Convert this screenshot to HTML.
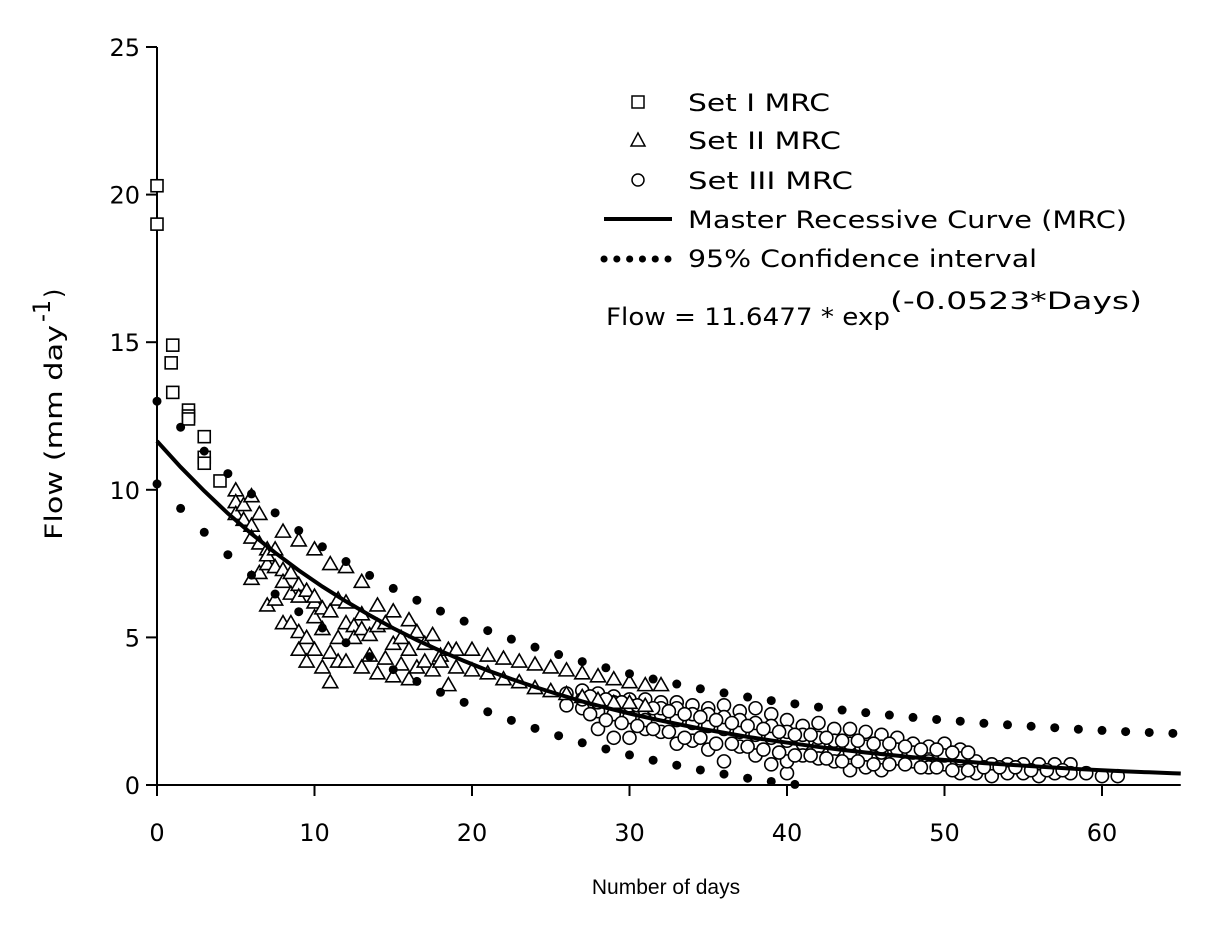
<!DOCTYPE html>
<html><head><meta charset="utf-8"><style>
body{margin:0;background:#fff}
svg{display:block}
text{font-family:"DejaVu Sans","Liberation Sans",sans-serif;fill:#000}
</style></head><body>
<svg id="chart" width="1216" height="928" viewBox="0 0 1216 928" xmlns="http://www.w3.org/2000/svg">
<g id="axes"></g>
<g id="marks"></g>
<g id="legend">
  <rect x="632" y="96" width="12" height="12" fill="#fff" stroke="#000" stroke-width="1.5"/>
  <text x="688" y="111" font-size="24" textLength="142" lengthAdjust="spacingAndGlyphs">Set I MRC</text>
  <polygon points="638,133 631,146 645,146" fill="#fff" stroke="#000" stroke-width="1.5"/>
  <text x="688" y="149" font-size="24" textLength="153" lengthAdjust="spacingAndGlyphs">Set II MRC</text>
  <circle cx="638" cy="180" r="6" fill="#fff" stroke="#000" stroke-width="1.5"/>
  <text x="688" y="189" font-size="24" textLength="165" lengthAdjust="spacingAndGlyphs">Set III MRC</text>
  <line x1="604" y1="219" x2="672" y2="219" stroke="#000" stroke-width="4"/>
  <text x="688" y="228" font-size="24" textLength="439" lengthAdjust="spacingAndGlyphs">Master Recessive Curve (MRC)</text>
  <line x1="604" y1="259" x2="668" y2="259" stroke="#000" stroke-width="7" stroke-linecap="round" stroke-dasharray="0.1 12.7"/>
  <text x="688" y="267" font-size="24" textLength="349" lengthAdjust="spacingAndGlyphs">95% Confidence interval</text>
  <text x="606" y="325" font-size="24" textLength="284" lengthAdjust="spacingAndGlyphs">Flow = 11.6477 * exp</text>
  <text x="890" y="309" font-size="24" textLength="252" lengthAdjust="spacingAndGlyphs">(-0.0523*Days)</text>
</g>
<text x="666" y="894" font-size="21" text-anchor="middle" style="font-family:'Liberation Sans',sans-serif">Number of days</text>
<g transform="translate(62,540) rotate(-90)">
  <text x="0" y="0" font-size="24" textLength="215" lengthAdjust="spacingAndGlyphs">Flow (mm day</text>
  <text x="218" y="-12" font-size="24" textLength="22" lengthAdjust="spacingAndGlyphs">-1</text>
  <text x="242" y="0" font-size="24">)</text>
</g>
</svg>
<script>
const xTicks=[0,10,20,30,40,50,60];
const yTicks=[0,5,10,15,20,25];
const set1Days=[0,0,1,0.9,1,2,2,2,3,3,3,4];
const set1Flow=[20.3,19.0,14.9,14.3,13.3,12.7,12.5,12.4,11.8,11.1,10.9,10.3];
const set2Days=[5,5,5,5.5,5.5,6,6,6,6,6.5,6.5,6.5,7,7,7,7,7.5,7.5,7.5,8,8,8,8,8.5,8.5,8.5,9,9,9,9,9,9.5,9.5,9.5,10,10,10,10,10,10.5,10.5,10.5,11,11,11,11,11.5,11.5,11.5,12,12,12,12,12.5,12.5,13,13,13,13,13.5,13.5,14,14,14,14.5,14.5,15,15,15,15.5,15.5,16,16,16,16.5,16.5,17,17,17.5,17.5,18,18,18.5,18.5,19,19,20,20,21,21,22,22,23,23,24,24,25,25,26,26,27,27,28,28,29,29,30,30,31,31,32];
const set2Flow=[10.0,9.6,9.2,9.5,9.0,9.8,8.8,8.4,7.0,9.2,8.2,7.2,8.0,7.5,6.1,7.8,8.0,6.3,7.4,8.6,7.3,5.5,6.9,7.2,6.5,5.5,8.3,6.8,6.4,5.2,4.6,6.6,5.0,4.2,8.0,6.2,4.6,5.7,6.4,6.0,4.0,5.3,7.5,5.9,3.5,4.5,6.3,5.0,4.2,7.4,6.2,5.5,4.2,5.4,5.0,6.9,5.8,4.0,5.3,5.1,4.4,6.1,5.4,3.8,5.5,4.3,5.9,4.8,3.7,5.0,4.1,5.6,4.6,3.6,5.2,4.0,4.8,4.2,5.1,3.9,4.4,4.2,4.6,3.4,4.6,4.0,4.6,3.9,4.4,3.8,4.3,3.6,4.2,3.5,4.1,3.3,4.0,3.2,3.9,3.1,3.8,3.0,3.7,2.9,3.6,2.8,3.5,2.8,3.4,2.7,3.4];
const set3Days=[26,26,27,27,27,28,28,28,28,29,29,29,29,30,30,30,30,31,31,31,31,32,32,32,32,33,33,33,33,34,34,34,34,35,35,35,35,36,36,36,36,37,37,37,37,38,38,38,38,39,39,39,39,40,40,40,40,40,41,41,41,41,42,42,42,42,43,43,43,43,44,44,44,44,45,45,45,45,46,46,46,46,47,47,47,48,48,48,49,49,49,50,50,50,51,51,51,52,52,53,53,54,54,55,55,56,56,57,57,58,58,59,60,61,
27.5,27.5,28.5,28.5,29.5,29.5,30.5,30.5,31.5,31.5,32.5,32.5,33.5,33.5,34.5,34.5,35.5,35.5,36.5,36.5,37.5,37.5,38.5,38.5,39.5,39.5,40.5,40.5,41.5,41.5,42.5,42.5,43.5,43.5,44.5,44.5,45.5,45.5,46.5,46.5,47.5,47.5,48.5,48.5,49.5,49.5,50.5,50.5,51.5,51.5,52.5,53.5,54.5,55.5,56.5,57.5];
const set3Flow=[3.1,2.7,3.2,2.6,2.9,3.1,2.5,1.9,2.8,3.0,2.4,1.6,2.8,2.9,2.3,1.6,2.7,2.9,2.5,1.9,2.2,2.8,2.4,1.8,2.6,2.8,2.2,1.4,2.6,2.7,2.1,1.5,2.4,2.6,2.0,1.2,2.4,2.7,1.9,0.8,2.3,2.5,1.8,1.3,2.2,2.6,1.7,1.0,2.1,2.4,1.6,0.7,2.0,2.2,1.5,0.4,0.8,1.8,2.0,1.4,1.0,1.7,2.1,1.3,0.9,1.6,1.9,1.2,0.8,1.5,1.9,1.1,0.5,1.4,1.8,1.0,0.6,1.3,1.7,1.1,0.5,1.3,1.6,0.9,1.2,1.4,0.8,1.1,1.3,0.8,0.6,1.4,0.7,1.0,1.2,0.4,0.9,0.8,0.4,0.7,0.3,0.7,0.4,0.7,0.4,0.7,0.3,0.7,0.4,0.7,0.4,0.4,0.3,0.3,
3.0,2.4,2.9,2.2,2.8,2.1,2.7,2.0,2.6,1.9,2.5,1.8,2.4,1.6,2.3,1.6,2.2,1.4,2.1,1.4,2.0,1.3,1.9,1.2,1.8,1.1,1.7,1.0,1.7,1.0,1.6,0.9,1.5,0.8,1.5,0.8,1.4,0.7,1.4,0.7,1.3,0.7,1.2,0.6,1.2,0.6,1.1,0.5,1.1,0.5,0.6,0.6,0.6,0.5,0.5,0.5];
const curveDays=[0,1.5,3,4.5,6,7.5,9,10.5,12,13.5,15,16.5,18,19.5,21,22.5,24,25.5,27,28.5,30,31.5,33,34.5,36,37.5,39,40.5,42,43.5,45,46.5,48,49.5,51,52.5,54,55.5,57,58.5,60,61.5,63,64.5];
const mrcFlow=[11.65,10.77,9.96,9.20,8.51,7.87,7.27,6.72,6.22,5.75,5.31,4.91,4.54,4.20,3.88,3.59,3.32,3.07,2.83,2.62,2.42,2.24,2.07,1.91,1.77,1.63,1.51,1.40,1.29,1.19,1.10,1.02,0.94,0.87,0.81,0.74,0.69,0.64,0.59,0.54,0.50,0.46,0.43,0.40];
const upperFlow=[13.0,12.12,11.31,10.55,9.86,9.22,8.62,8.07,7.57,7.10,6.66,6.26,5.89,5.55,5.23,4.94,4.67,4.42,4.18,3.97,3.77,3.59,3.42,3.26,3.12,2.98,2.86,2.75,2.64,2.54,2.45,2.37,2.29,2.22,2.16,2.09,2.04,1.99,1.94,1.89,1.85,1.81,1.78,1.75];
const lowerFlow=[10.2,9.37,8.56,7.80,7.11,6.47,5.87,5.32,4.82,4.35,3.91,3.51,3.14,2.80,2.48,2.19,1.92,1.67,1.43,1.22,1.02,0.84,0.67,0.51,0.37,0.23,0.12,0.02];

const NS="http://www.w3.org/2000/svg";
const X=d=>157+d*15.75;
const Y=v=>785-v*29.52;
const axes=document.getElementById('axes'), marks=document.getElementById('marks');
function mk(tag,attrs,parent){const e=document.createElementNS(NS,tag);for(const k in attrs)e.setAttribute(k,attrs[k]);parent.appendChild(e);return e;}

let e=mk('line',{x1:X(0),y1:Y(0),x2:X(65),y2:Y(0),stroke:'#000','stroke-width':2},axes);


e=mk('line',{x1:X(0),y1:Y(0),x2:X(0),y2:Y(25),stroke:'#000','stroke-width':2},axes);


xTicks.forEach(t=>{
  let l=mk('line',{x1:X(t),y1:Y(0),x2:X(t),y2:Y(0)+11,stroke:'#000','stroke-width':2},axes);
  
  
  let tx=mk('text',{x:X(t),y:841,'font-size':24,'text-anchor':'middle'},axes);tx.textContent=t;
  
  
});
yTicks.forEach(t=>{
  let l=mk('line',{x1:X(0)-11,y1:Y(t),x2:X(0),y2:Y(t),stroke:'#000','stroke-width':2},axes);
  
  
  let tx=mk('text',{x:140,y:Y(t)+9,'font-size':24,'text-anchor':'end'},axes);tx.textContent=t;
  
  
});
set3Days.forEach((d,i)=>{
  let c=mk('circle',{cx:X(d),cy:Y(set3Flow[i]),r:6.5,fill:'#fff',stroke:'#000','stroke-width':1.6},marks);
  
  
});
set2Days.forEach((d,i)=>{
  const x=X(d),y=Y(set2Flow[i]);
  let p=mk('polygon',{points:`${x},${y-7} ${x-7.5},${y+6} ${x+7.5},${y+6}`,fill:'#fff',stroke:'#000','stroke-width':1.6},marks);
  
  
});
set1Days.forEach((d,i)=>{
  let r=mk('rect',{x:X(d)-6,y:Y(set1Flow[i])-6,width:12,height:12,fill:'#fff',stroke:'#000','stroke-width':1.6},marks);
  
  
});
let pts=curveDays.map((d,i)=>X(d)+','+Y(mrcFlow[i]));
pts.push(X(65)+','+Y(0.39));
let pl=mk('polyline',{points:pts.join(' '),fill:'none',stroke:'#000','stroke-width':4},marks);


upperFlow.forEach((v,i)=>{
  let c=mk('circle',{cx:X(curveDays[i]),cy:Y(v),r:4.5,fill:'#000'},marks);
  
  
});
lowerFlow.forEach((v,i)=>{
  let c=mk('circle',{cx:X(curveDays[i]),cy:Y(v),r:4.5,fill:'#000'},marks);
  
  
});
</script>
</body></html>
